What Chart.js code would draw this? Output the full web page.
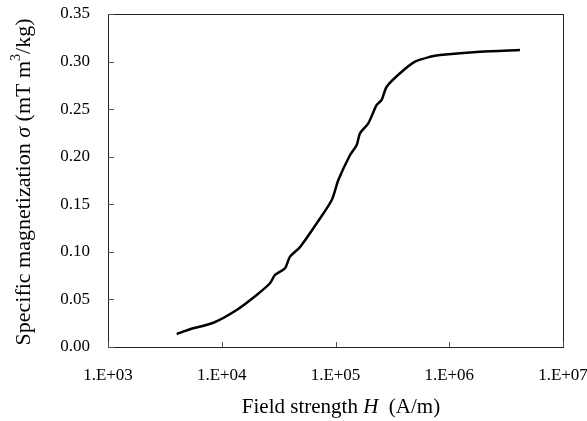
<!DOCTYPE html>
<html>
<head>
<meta charset="utf-8">
<script src="https://cdn.jsdelivr.net/npm/chart.js@4.4.1/dist/chart.umd.min.js"></script>
<style>
  html, body { margin: 0; padding: 0; background: #fff; }
  #wrap { width: 587px; height: 421px; }
</style>
</head>
<body>
<div id="wrap"><canvas id="magChart" width="587" height="421"></canvas></div>
<script>
// field strength H (A/m) and specific magnetization (mT m3/kg)
const campoH = [4020, 5260, 8440, 13520, 20280, 26550, 29400, 35970, 39820, 48750, 68390, 92680,
    105900, 134300, 153600, 164100, 194200, 230100, 254600, 281800, 369000, 500000, 677500,
    829000, 1862000, 4190000];
const sigma = [0.0137, 0.0186, 0.0255, 0.0389, 0.0547, 0.067, 0.0757, 0.0827, 0.095, 0.105, 0.130, 0.1545,
    0.1755, 0.2018, 0.2123, 0.2246, 0.2351, 0.2544, 0.2597, 0.2736, 0.2877, 0.2999, 0.305,
    0.3069, 0.3104, 0.3122];
const ticksX = [1e3, 1e4, 1e5, 1e6, 1e7];
const ticksY = [0, 0.05, 0.10, 0.15, 0.20, 0.25, 0.30, 0.35];

const serif = "'Liberation Serif', 'Times New Roman', serif";

// box, inner tick marks and the two axis titles (mixed italic)
const marcoPlugin = {
    id: 'marco',
    afterDraw(chart) {
        const { ctx, chartArea: a, scales } = chart;
        ctx.save();
        ctx.strokeStyle = '#222';
        ctx.lineWidth = 1;
        ctx.strokeRect(a.left + 0.5, a.top + 0.5, a.right - a.left, a.bottom - a.top);

        ctx.strokeStyle = '#555';
        ctx.beginPath();
        ticksX.forEach(v => {
            const x = Math.round(scales.x.getPixelForValue(v)) + 0.5;
            ctx.moveTo(x, a.bottom);
            ctx.lineTo(x, a.bottom - 5);
        });
        ticksY.forEach(v => {
            const y = Math.round(scales.y.getPixelForValue(v)) + 0.5;
            ctx.moveTo(a.left, y);
            ctx.lineTo(a.left + 6, y);
        });
        ctx.stroke();

        ctx.fillStyle = '#000';
        ctx.textBaseline = 'middle';

        // x title
        const partesX = [
            { t: 'Field strength ', f: '21px ' + serif },
            { t: 'H', f: 'italic 21px ' + serif },
            { t: '  (A/m)', f: '21px ' + serif }
        ];
        let ancho = 0;
        partesX.forEach(p => { ctx.font = p.f; ancho += ctx.measureText(p.t).width; });
        let x = 341 - ancho / 2;
        partesX.forEach(p => {
            ctx.font = p.f;
            ctx.fillText(p.t, x, 407);
            x += ctx.measureText(p.t).width;
        });

        // y title
        const partesY = [
            { t: 'Specific magnetization ', f: '22px ' + serif, dy: 0 },
            { t: 'σ', f: 'italic 22px ' + serif, dy: 0 },
            { t: ' (mT m', f: '22px ' + serif, dy: 0 },
            { t: '3', f: '14px ' + serif, dy: -8 },
            { t: '/kg)', f: '22px ' + serif, dy: 0 }
        ];
        ancho = 0;
        partesY.forEach(p => { ctx.font = p.f; ancho += ctx.measureText(p.t).width; });
        ctx.translate(24, 182);
        ctx.rotate(-Math.PI / 2);
        x = -ancho / 2;
        partesY.forEach(p => {
            ctx.font = p.f;
            ctx.fillText(p.t, x, p.dy);
            x += ctx.measureText(p.t).width;
        });
        ctx.restore();
    }
};

// label overhang is ignored, the padding below fixes the plot box
function sinRelleno(s) {
    s.paddingTop = 0;
    s.paddingBottom = 0;
    s.paddingLeft = 0;
    s.paddingRight = 0;
}

const ctx = document.getElementById('magChart').getContext('2d');
const magChart = new Chart(ctx, {
    type: 'scatter',
    data: {
        datasets: [{
            data: campoH.map((h, i) => ({ x: h, y: sigma[i] })),
            showLine: true,
            borderColor: '#000',
            borderWidth: 2.5,
            pointRadius: 0,
            tension: 0.25
        }]
    },
    options: {
        responsive: false,
        animation: false,
        layout: { padding: { left: 0, right: 24, top: 14, bottom: 0 } },
        plugins: { legend: { display: false }, tooltip: { enabled: false } },
        scales: {
            x: {
                type: 'logarithmic',
                min: 1e3,
                max: 1e7,
                afterBuildTicks: s => { s.ticks = ticksX.map(v => ({ value: v })); },
                afterFit: s => { s.height = 74; sinRelleno(s); },
                grid: { display: false, drawTicks: false },
                border: { display: false },
                ticks: {
                    color: '#000',
                    padding: 18,
                    maxRotation: 0,
                    font: { family: serif, size: 17 },
                    callback: v => '1.E+' + String(Math.round(Math.log10(v))).padStart(2, '0')
                }
            },
            y: {
                min: 0,
                max: 0.35,
                afterBuildTicks: s => { s.ticks = ticksY.map(v => ({ value: v })); },
                afterFit: s => { s.width = 108; sinRelleno(s); },
                grid: { display: false, drawTicks: false },
                border: { display: false },
                ticks: {
                    color: '#000',
                    padding: 18,
                    font: { family: serif, size: 17 },
                    callback: v => v.toFixed(2)
                }
            }
        }
    },
    plugins: [marcoPlugin]
});
</script>
</body>
</html>
